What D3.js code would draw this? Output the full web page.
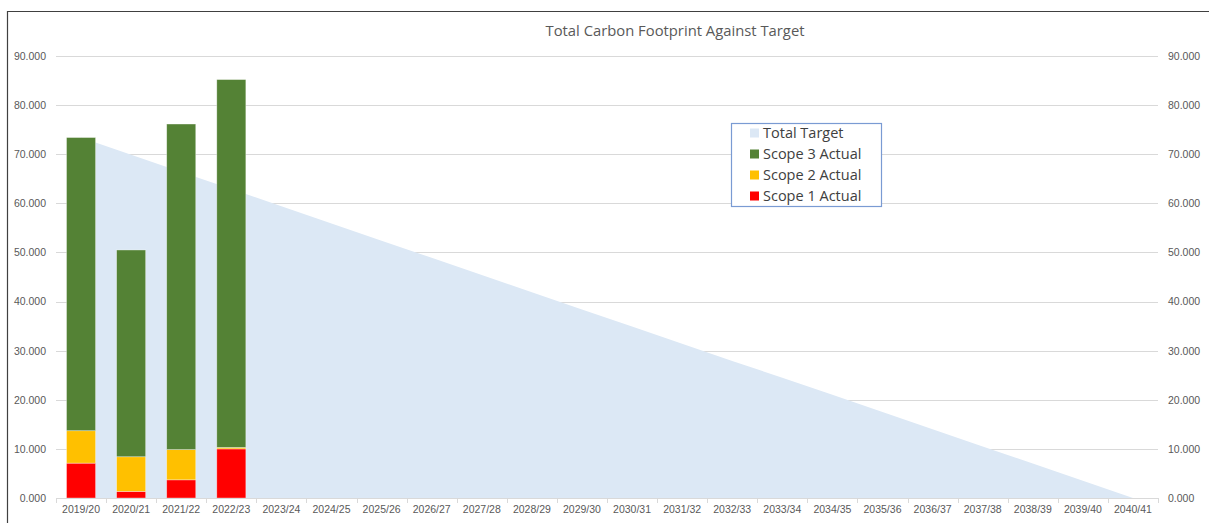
<!DOCTYPE html>
<html>
<head>
<meta charset="utf-8">
<script src="https://cdn.jsdelivr.net/npm/d3@7"></script>
<style>
  html, body { margin: 0; padding: 0; background: #fff; }
  svg { display: block; font-family: "Open Sans", "Noto Sans", sans-serif; }
</style>
</head>
<body>
<div id="chart"></div>
<script>
var width = 1209;
var height = 523;
var margin = { top: 56, right: 51, bottom: 25, left: 56 };

var years = ["2019/20", "2020/21", "2021/22", "2022/23", "2023/24", "2024/25", "2025/26", "2026/27",
  "2027/28", "2028/29", "2029/30", "2030/31", "2031/32", "2032/33", "2033/34", "2034/35",
  "2035/36", "2036/37", "2037/38", "2038/39", "2039/40", "2040/41"];
var scope1 = [7.1, 1.35, 3.7, 10.0];
var scope2 = [6.6, 7.05, 6.15, 0.3];
var scope3 = [59.7, 42.1, 66.3, 74.9];
var target = [73.4, 69.9, 66.4, 62.9, 59.4, 55.9, 52.4, 48.9, 45.4, 41.9, 38.4,
  34.9, 31.4, 27.9, 24.5, 21.0, 17.5, 14.0, 10.5, 7.0, 3.5, 0];
var yTicks = [0, 10, 20, 30, 40, 50, 60, 70, 80, 90];
var legendNames = ["Total Target", "Scope 3 Actual", "Scope 2 Actual", "Scope 1 Actual"];
var colors = { target: "#dce8f5", s3: "#548235", s2: "#ffc000", s1: "#ff0000" };

var svg = d3.select("#chart").append("svg")
  .attr("width", width)
  .attr("height", height);

// chart frame (only top and left edges are visible in the crop)
svg.append("path")
  .attr("d", "M7.5," + height + "V11.5H" + width)
  .attr("fill", "none")
  .attr("stroke", "#404040")
  .attr("stroke-width", 1.2);

var x = d3.scaleBand()
  .domain(years)
  .range([margin.left, width - margin.right])
  .paddingInner(0.42)
  .paddingOuter(0.21);

var xCenter = d3.scalePoint()
  .domain(years)
  .range([margin.left, width - margin.right])
  .padding(0.5);

var y = d3.scaleLinear()
  .domain([0, 90])
  .range([height - margin.bottom, margin.top]);

// gridlines
svg.append("g")
  .selectAll("line")
  .data(yTicks.slice(1))
  .join("line")
  .attr("x1", margin.left)
  .attr("x2", width - margin.right)
  .attr("y1", function (d) { return Math.round(y(d)) + 0.5; })
  .attr("y2", function (d) { return Math.round(y(d)) + 0.5; })
  .attr("stroke", "#d9d9d9")
  .attr("stroke-width", 1);

// target area
var area = d3.area()
  .x(function (d, i) { return xCenter(years[i]); })
  .y0(y(0))
  .y1(function (d) { return y(d); });

svg.append("path")
  .datum(target)
  .attr("d", area)
  .attr("fill", colors.target);

// stacked bars
var rows = scope1.map(function (v, i) {
  return { year: years[i], s1: v, s2: scope2[i], s3: scope3[i] };
});
var stack = d3.stack().keys(["s1", "s2", "s3"]);
var series = stack(rows);

svg.append("g")
  .selectAll("g")
  .data(series)
  .join("g")
  .attr("fill", function (d) { return colors[d.key]; })
  .selectAll("rect")
  .data(function (d) { return d; })
  .join("rect")
  .attr("x", function (d) { return x(d.data.year); })
  .attr("width", x.bandwidth())
  .attr("y", function (d) { return y(d[1]); })
  .attr("height", function (d) { return y(d[0]) - y(d[1]); })
  .attr("stroke", "#ffffff")
  .attr("stroke-opacity", 0.5)
  .attr("stroke-width", 0.7);

// x axis
var xAxis = d3.axisBottom(x).tickSize(0).tickPadding(8);
var gx = svg.append("g")
  .attr("transform", "translate(0," + y(0) + ")")
  .call(xAxis);
gx.select(".domain").attr("stroke", "#d9d9d9");
gx.selectAll("text")
  .attr("fill", "#595959")
  .style("font-size", "10.5px");

// tick marks between categories
var step = x.step();
svg.append("g")
  .selectAll("line")
  .data(d3.range(years.length + 1))
  .join("line")
  .attr("x1", function (i) { return Math.round(margin.left + i * step) + 0.5; })
  .attr("x2", function (i) { return Math.round(margin.left + i * step) + 0.5; })
  .attr("y1", y(0))
  .attr("y2", y(0) + 5)
  .attr("stroke", "#d9d9d9");

// y axes, left and right
var fmt = function (d) { return d3.format(".3f")(d); };
var gyl = svg.append("g")
  .attr("transform", "translate(" + (margin.left - 10) + ",0)")
  .call(d3.axisLeft(y).tickValues(yTicks).tickFormat(fmt).tickSize(0).tickPadding(0));
var gyr = svg.append("g")
  .attr("transform", "translate(" + (width - margin.right + 10) + ",0)")
  .call(d3.axisRight(y).tickValues(yTicks).tickFormat(fmt).tickSize(0).tickPadding(0));
[gyl, gyr].forEach(function (g) {
  g.select(".domain").remove();
  g.selectAll("text")
    .attr("fill", "#595959")
    .style("font-size", "10.5px");
});

// title
svg.append("text")
  .attr("x", 675)
  .attr("y", 36)
  .attr("text-anchor", "middle")
  .attr("fill", "#595959")
  .style("font-size", "14.8px")
  .text("Total Carbon Footprint Against Target");

// legend
var legend = svg.append("g");
legend.append("rect")
  .attr("x", 731.5)
  .attr("y", 123.5)
  .attr("width", 150)
  .attr("height", 83)
  .attr("fill", "#fff")
  .attr("stroke", "#7a9bd3")
  .attr("stroke-width", 1.2);
var legendColors = [colors.target, colors.s3, colors.s2, colors.s1];
var items = legend.selectAll("g.item")
  .data(legendNames)
  .join("g")
  .attr("class", "item")
  .attr("transform", function (d, i) { return "translate(750," + (133 + i * 21) + ")"; });
items.append("rect")
  .attr("x", 0)
  .attr("y", -4.5)
  .attr("width", 9)
  .attr("height", 9)
  .attr("fill", function (d, i) { return legendColors[i]; });
items.append("text")
  .attr("x", 13)
  .attr("y", 5)
  .attr("fill", "#404040")
  .style("font-size", "14.5px")
  .text(function (d) { return d; });
</script>
</body>
</html>
